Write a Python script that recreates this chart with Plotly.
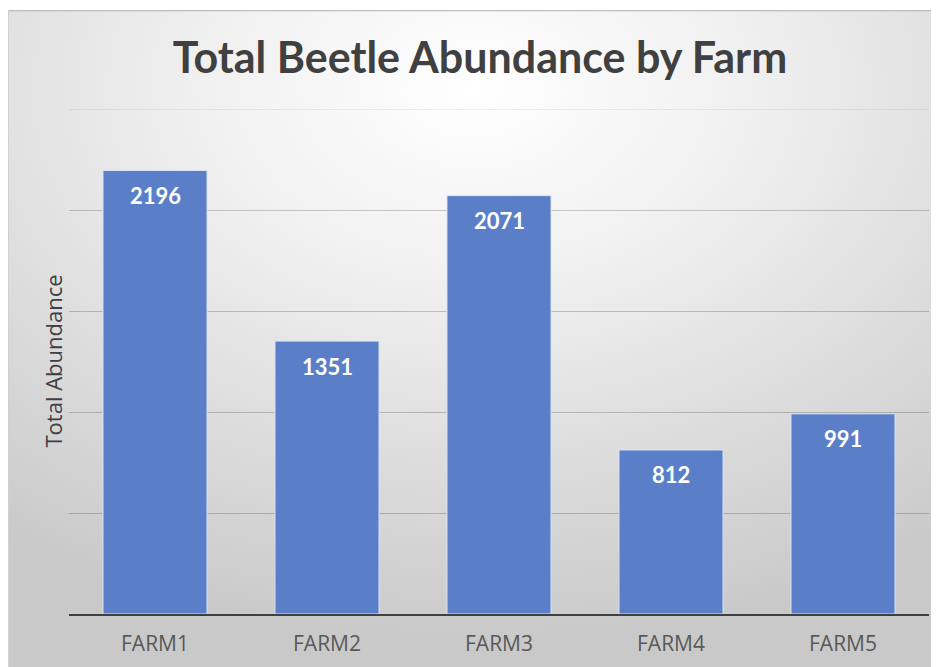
import base64
import plotly.graph_objects as go

farms = ["FARM1", "FARM2", "FARM3", "FARM4", "FARM5"]
abundance = [2196, 1351, 2071, 812, 991]
title_text = "Total Beetle Abundance by Farm"
y_title = "Total Abundance"
y_max = 2500

# page body has an 8px margin, so figure is 931x659 placed at (8,8)
W, H = 931, 659
ML, MR, MT, MB = 61, 10, 101, 53
PW, PH = W - ML - MR, H - MT - MB

svg = """<svg xmlns='http://www.w3.org/2000/svg' width='931' height='657' preserveAspectRatio='none'>
<defs><radialGradient id='g' cx='50%' cy='12%' r='85%' fx='50%' fy='12%'>
<stop offset='0' stop-color='#ffffff'/><stop offset='0.35' stop-color='#f0f0f0'/>
<stop offset='1' stop-color='#c9c9c9'/></radialGradient></defs>
<rect width='931' height='657' fill='url(#g)'/>
<line x1='0' y1='0.5' x2='931' y2='0.5' stroke='#bdbdbd' stroke-width='1.5'/>
<line x1='0.5' y1='0' x2='0.5' y2='657' stroke='#d0d0d0' stroke-width='1'/>
</svg>"""
src = "data:image/svg+xml;base64," + base64.b64encode(svg.encode()).decode()

fig = go.Figure()
fig.add_trace(go.Bar(
    x=farms, y=abundance,
    marker=dict(color="#5a7fc8", line=dict(color="#dce6f5", width=1)),
    width=0.605,
    hoverinfo="x+y",
))

for f, v in zip(farms, abundance):
    fig.add_annotation(
        x=f, y=v, text="<b>%d</b>" % v, showarrow=False,
        yanchor="middle", xanchor="center", yshift=-25,
        font=dict(family="Lato, 'Open Sans', sans-serif", size=22, color="#ffffff"),
    )

fig.add_annotation(
    x=(44 - ML) / PW, y=0.5, xref="paper", yref="paper", text=y_title,
    textangle=-90, showarrow=False, xanchor="center", yanchor="middle",
    font=dict(family="'Open Sans', sans-serif", size=22, color="#404040"),
)

fig.add_shape(type="line", xref="paper", yref="y", x0=0, x1=1, y0=y_max, y1=y_max,
              line=dict(color="rgba(0,0,0,0.13)", width=1), layer="below")

fig.update_layout(
    width=W, height=H,
    paper_bgcolor="#ffffff", plot_bgcolor="rgba(0,0,0,0)",
    margin=dict(l=ML, r=MR, t=MT, b=MB, autoexpand=False),
    showlegend=False,
    images=[dict(source=src, xref="paper", yref="paper", x=-ML / PW, y=1 + (MT - 2) / PH,
                 sizex=W / PW, sizey=657 / PH, sizing="stretch", layer="below",
                 xanchor="left", yanchor="top")],
    title=dict(text="<b>" + title_text + "</b>", x=472 / W, xanchor="center", xref="container",
               y=1 - 50 / H, yanchor="middle", yref="container",
               font=dict(family="Lato, 'Open Sans', sans-serif", size=43, color="#404040")),
)

fig.update_xaxes(
    showgrid=False, showline=True, linecolor="#404040", linewidth=2,
    ticks="", tickfont=dict(family="'Open Sans', sans-serif", size=21, color="#595959"),
    ticklabelstandoff=10,
)
fig.update_yaxes(
    range=[0, y_max], dtick=500, showgrid=True,
    gridcolor="rgba(0,0,0,0.2)", gridwidth=1,
    showticklabels=False, zeroline=False, showline=False,
)

fig.write_html("out.html")
